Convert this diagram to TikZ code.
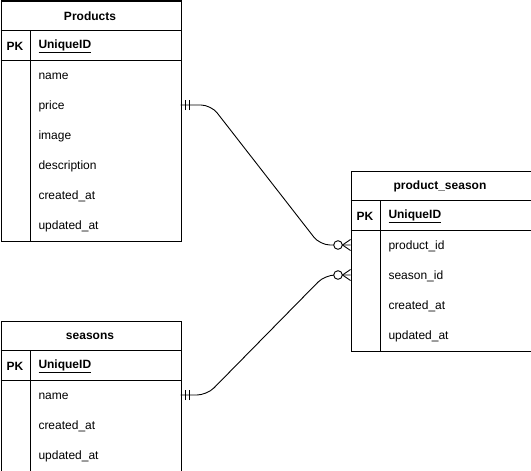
\documentclass[tikz,border=0pt]{standalone}
\usepackage{fontspec}
\setmainfont{Liberation Sans}
\begin{document}
\begin{tikzpicture}[x=1pt,y=-1pt,line width=1pt,
  tbl/.style={draw, minimum width=180pt, minimum height=#1, inner sep=0pt, anchor=north west},
  ttl/.style={font=\fontsize{12}{14}\selectfont\bfseries, anchor=center, yshift=-1pt},
  pk/.style={font=\fontsize{12}{14}\selectfont\bfseries, anchor=center, yshift=-1pt},
  fld/.style={font=\fontsize{12}{14}\selectfont, anchor=west, inner sep=0pt, yshift=-1.5pt},
  fldb/.style={fld, font=\fontsize{12}{14}\selectfont\bfseries},
  conn/.style={draw, line width=0.9pt}]
\useasboundingbox (0,0) rectangle (531,471);

% ---------- Products ----------
\node[tbl=240pt] (prod) at (0.5,0.5) {};
\draw (0.5,30) -- (180.5,30);
\draw (0.5,60) -- (180.5,60);
\draw (30,30) -- (30,240.5);
\node[ttl] (prodT) at (90,15) {Products};
\node[pk] (prodPK) at (15,45) {PK};
\node[fldb] (prodID) at (38,45) {\underline{UniqueID}};
\node[fld] (prodName) at (38,75) {name};
\node[fld] (prodPrice) at (38,105) {price};
\node[fld] (prodImage) at (38,135) {image};
\node[fld] (prodDesc) at (38,165) {description};
\node[fld] (prodCreated) at (38,195) {created\_at};
\node[fld] (prodUpdated) at (38,225) {updated\_at};

% ---------- product_season ----------
\node[tbl=180pt] (ps) at (350.5,170.5) {};
\draw (350.5,200) -- (530.5,200);
\draw (350.5,230) -- (530.5,230);
\draw (380,200) -- (380,350.5);
\node[ttl] (psT) at (440,185) {product\_season};
\node[pk] (psPK) at (365,215) {PK};
\node[fldb] (psID) at (388,215) {\underline{UniqueID}};
\node[fld] (psProd) at (388,245) {product\_id};
\node[fld] (psSeason) at (388,275) {season\_id};
\node[fld] (psCreated) at (388,305) {created\_at};
\node[fld] (psUpdated) at (388,335) {updated\_at};

% ---------- seasons ----------
\node[tbl=150pt] (sea) at (0.5,320.5) {};
\draw (0.5,350) -- (180.5,350);
\draw (0.5,380) -- (180.5,380);
\draw (30,350) -- (30,470.5);
\node[ttl] (seaT) at (90,335) {seasons};
\node[pk] (seaPK) at (15,365) {PK};
\node[fldb] (seaID) at (38,365) {\underline{UniqueID}};
\node[fld] (seaName) at (38,395) {name};
\node[fld] (seaCreated) at (38,425) {created\_at};
\node[fld] (seaUpdated) at (38,455) {updated\_at};

% ---------- connector end points ----------
\coordinate (a1) at (180.5,105);
\coordinate (a2) at (350.5,245);
\coordinate (b1) at (180.5,395);
\coordinate (b2) at (350.5,275);

% Products.price -> product_season.product_id
\draw[conn, rounded corners=10pt] (a1) -- (211,105) -- (320,245) -- (a2);
% seasons.name -> product_season.season_id
\draw[conn, rounded corners=10pt] (b1) -- (207,395) -- (325,275) -- (b2);

% mandatory one marks
\foreach \c in {a1,b1}{
  \draw[conn] ([xshift=5pt,yshift=-5pt]\c) -- ([xshift=5pt,yshift=5pt]\c);
  \draw[conn] ([xshift=9pt,yshift=-5pt]\c) -- ([xshift=9pt,yshift=5pt]\c);
}
% zero or many marks
\foreach \c in {a2,b2}{
  \draw[conn, fill=white] ([xshift=-12.5pt]\c) circle (4.3pt);
  \draw[conn] ([xshift=-8pt]\c) -- ([yshift=-5.5pt]\c);
  \draw[conn] ([xshift=-8pt]\c) -- ([yshift=5.5pt]\c);
}
\end{tikzpicture}
\end{document}
